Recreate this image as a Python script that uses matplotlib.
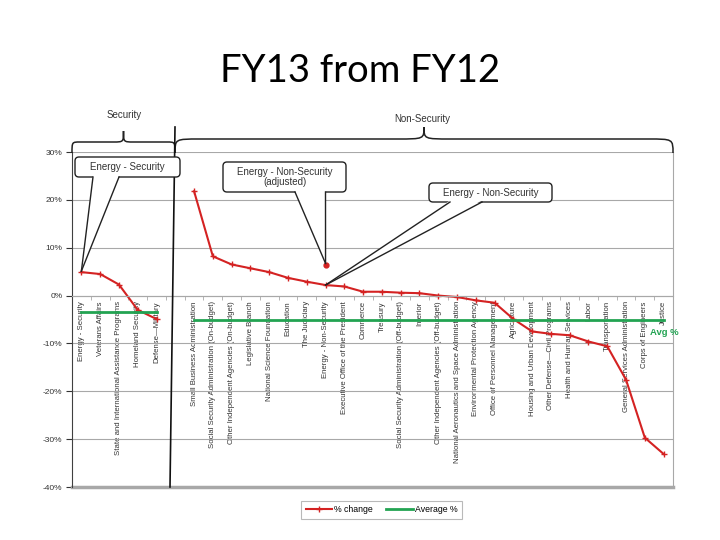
import numpy as np
import matplotlib.pyplot as plt
from matplotlib.patches import FancyBboxPatch, PathPatch, Polygon
from matplotlib.path import Path

# % change FY13 from FY12
security_names = ['Energy - Security', 'Veterans Affairs',
                  'State and International Assistance Programs',
                  'Homeland Security', 'Defense\u2014Military']
security_pct = [4.9, 4.5, 2.3, -3.0, -4.9]
security_avg = -3.5

nonsec_names = ['Small Business Administration',
                'Social Security Administration (On-budget)',
                'Other Independent Agencies (On-budget)',
                'Legislative Branch', 'National Science Foundation',
                'Education', 'The Judiciary', 'Energy - Non-Security',
                'Executive Office of the President', 'Commerce', 'Treasury',
                'Social Security Administration (Off-budget)', 'Interior',
                'Other Independent Agencies (Off-budget)',
                'National Aeronautics and Space Administration',
                'Environmental Protection Agency',
                'Office of Personnel Management', 'Agriculture',
                'Housing and Urban Development',
                'Other Defense\u2014Civil Programs',
                'Health and Human Services', 'Labor', 'Transportation',
                'General Services Administration', 'Corps of Engineers',
                'Justice']
nonsec_pct = [21.8, 8.2, 6.5, 5.7, 4.9, 3.7, 2.9, 2.2, 1.9, 0.8, 0.8, 0.6,
              0.5, 0.0, -0.3, -1.0, -1.5, -4.9, -7.5, -8.0, -8.3, -9.6,
              -10.6, -17.6, -29.7, -33.1]
nonsec_avg = -5.1
energy_adjusted = 6.3

yticks = [30, 20, 10, 0, -10, -20, -30, -40]

red = '#d42222'
green = '#22a352'
grey = '#a8a8a8'
ink = '#333333'
font = 'Liberation Sans'

sec_x = np.arange(len(security_names))
ns_x = np.arange(len(nonsec_names)) + len(security_names) + 1
energy_i = nonsec_names.index('Energy - Non-Security')

fig = plt.figure(figsize=(7.2, 5.4), dpi=100)
ax = fig.add_axes([72/720, 1-487/540, 601/720, 335/540])

# spine position first: it resets the ticks
ax.spines['bottom'].set_position(('data', 0))
ax.spines['bottom'].set_color(grey)
ax.spines['top'].set_visible(False)
ax.spines['right'].set_color(grey)
ax.spines['left'].set_color('#404040')

ax.plot(sec_x, security_pct, color=red, lw=1.5, marker='+', ms=5, mew=1)
ax.plot(ns_x, nonsec_pct, color=red, lw=1.5, marker='+', ms=5, mew=1)
ax.plot(ns_x[energy_i], energy_adjusted, 'o', color=red, ms=3.5)
ax.plot(sec_x, [security_avg]*len(sec_x), color=green, lw=2)
ax.plot(ns_x, [nonsec_avg]*len(ns_x), color=green, lw=2)
ax.text(ns_x[-1] - 0.75, nonsec_avg - 2.6, 'Avg %', color=green,
        fontsize=6.8, fontweight='bold', family=font, va='center')

ax.set_xlim(-0.5, ns_x[-1] + 0.5)
ax.set_ylim(-40, 30)
ax.set_yticks(yticks)
ax.set_yticklabels(['%d%%' % v for v in yticks], fontsize=6, family=font,
                   color=ink)
ax.set_xticks(np.concatenate([sec_x, ns_x]))
ax.set_xticklabels(security_names + nonsec_names, rotation=90, fontsize=5.6,
                   family=font, color=ink, va='top')
ax.set_xticks(np.arange(-0.5, ns_x[-1] + 1, 1), minor=True)
ax.tick_params(axis='x', which='major', length=0, pad=4)
ax.tick_params(axis='x', which='minor', length=3, color=grey)
ax.tick_params(axis='y', length=4, color=ink, pad=3)

ax.grid(axis='y', color=grey, lw=0.8)
ax.set_axisbelow(True)
ax.axhline(-40, color=grey, lw=2.5, clip_on=False)

# overlay in pixel units for braces and callouts
ov = fig.add_axes([0, 0, 1, 1], facecolor='none')
ov.set_xlim(0, 720)
ov.set_ylim(540, 0)
ov.axis('off')


def px(x, y):
    dx, dy = ax.transData.transform((x, y))
    return dx, 540 - dy


def brace(x0, x1, yb, yl, ya, r0, r1):
    xm = (x0 + x1) / 2
    verts = [(x0, yb), (x0, yl), (x0, yl), (x0 + r0, yl), (xm - r1, yl),
             (xm, yl), (xm, yl), (xm, ya), (xm, yl), (xm, yl), (xm + r1, yl),
             (x1 - r0, yl), (x1, yl), (x1, yl), (x1, yb)]
    codes = [Path.MOVETO] + [Path.CURVE4]*3 + [Path.LINETO] + \
        [Path.CURVE4]*6 + [Path.LINETO] + [Path.CURVE4]*3
    ov.add_patch(PathPatch(Path(verts, codes), fc='none', ec='#222222',
                           lw=1.1))


brace(72, 175, 153, 142, 131, 8, 10)
brace(175, 673, 153, 139, 127, 25, 27)
ov.text(124, 115, 'Security', ha='center', va='center', fontsize=7,
        family=font, color=ink)
ov.text(422, 119, 'Non-Security', ha='center', va='center', fontsize=7,
        family=font, color=ink)
ov.plot([175, 170], [127, 487], color='#111111', lw=1.2)


def callout(x0, y0, x1, y1, text, ba, bb, tip):
    ov.add_patch(FancyBboxPatch((x0, y0), x1 - x0, y1 - y0,
                                boxstyle='round,pad=0,rounding_size=4',
                                fc='white', ec='#222222', lw=1, zorder=3))
    ov.add_patch(Polygon([(ba, y1 - 1.5), (bb, y1 - 1.5), tip], closed=True,
                         fc='white', ec='none', zorder=4))
    ov.plot([ba, tip[0]], [y1, tip[1]], color='#222222', lw=1, zorder=5)
    ov.plot([bb, tip[0]], [y1, tip[1]], color='#222222', lw=1, zorder=5)
    ov.text((x0 + x1) / 2, (y0 + y1) / 2, text, ha='center', va='center',
            fontsize=7, family=font, color=ink, zorder=6,
            linespacing=1.05)


tx, ty = px(sec_x[0], security_pct[0])
callout(75, 157, 180, 177, 'Energy - Security', 93, 119, (tx, ty - 1))
tx, ty = px(ns_x[energy_i], energy_adjusted)
callout(223, 162, 346, 192, 'Energy - Non-Security\n(adjusted)', 295, 325.5,
        (tx, ty - 2))
tx, ty = px(ns_x[energy_i], nonsec_pct[energy_i])
callout(429, 183, 552, 202, 'Energy - Non-Security', 450, 482, (tx, ty))

fig.text(0.5, 1 - 82/540, 'FY13 from FY12', ha='center', va='baseline',
         fontsize=27.5, family='Lato', color='black')

h1, = ax.plot([], [], color=red, lw=1.5, marker='+', ms=5)
h2, = ax.plot([], [], color=green, lw=2)
leg = fig.legend([h1, h2], ['% change', 'Average %'], loc='center',
                 bbox_to_anchor=(381.7/720, 1 - 510/540), ncol=2,
                 fancybox=False, edgecolor=grey,
                 prop={'family': font, 'size': 6.3}, handlelength=3,
                 columnspacing=1.5, borderpad=0.5, handletextpad=0.3)
leg.get_frame().set_linewidth(0.8)

fig.savefig('out.png', dpi=100)
